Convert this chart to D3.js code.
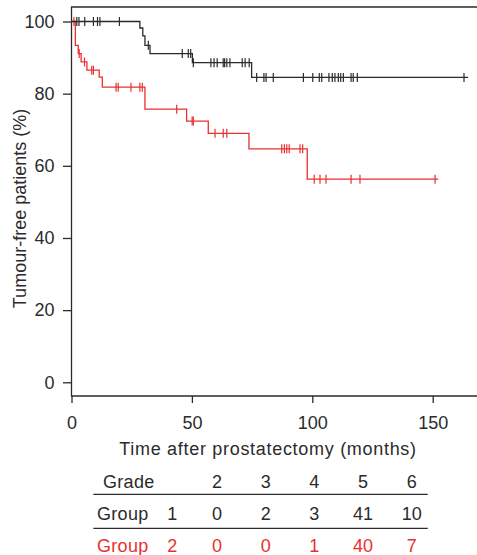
<!DOCTYPE html>
<html>
<head>
<meta charset="utf-8">
<script src="https://cdn.jsdelivr.net/npm/d3@7"></script>
<style>
  body { margin: 0; background: #fff; }
  svg { display: block; }
  text { font-family: "Liberation Sans", Arial, Helvetica, sans-serif; }
</style>
</head>
<body>
<svg id="chart" width="477" height="555"></svg>
<script>
// Axis ticks
const xTicks = [0, 50, 100, 150];
const yTicks = [0, 20, 40, 60, 80, 100];

// Group 1: Kaplan-Meier steps (month, % tumour-free) and censored follow-up times
const group1StepTimes  = [0, 28.4, 29.6, 30.5, 32.6, 50.2, 74.8];
const group1StepValues = [100, 98.2, 96.0, 93.4, 91.1, 88.6, 84.5];
const group1LastFollowUp = 164.7;
const group1Censored = [2.2, 3.1, 5.5, 9.1, 10.8, 11.8, 19.9, 31.9,
  46.0, 48.5, 49.5, 50.6, 57.9, 59.2, 60.5, 63.0, 63.6, 64.5, 65.8, 70.9, 72.1, 73.8,
  76.9, 79.9, 80.8, 83.8, 96.3, 100.2, 102.9, 103.9, 106.9, 108.3, 109.4, 110.8,
  111.8, 112.9, 116.1, 117.0, 118.7, 163.0];

// Group 2
const group2StepTimes  = [0, 1.6, 2.8, 4.0, 6.4, 11.5, 12.8, 30.5, 47.8, 56.8, 73.7, 97.9];
const group2StepValues = [100, 93.4, 91.1, 88.8, 86.5, 84.6, 81.8, 75.7, 72.4, 69.0, 64.7, 56.3];
const group2LastFollowUp = 152.3;
const group2Censored = [1.0, 3.2, 5.4, 8.4, 9.1, 18.5, 19.4, 24.7, 28.4, 29.4, 43.7,
  50.1, 50.6, 59.6, 63.0, 64.5, 87.3, 88.4, 89.4, 90.4, 94.9, 96.0,
  100.8, 103.2, 105.7, 116.1, 119.8, 151.0];

// Grade distribution table
const gradeLabels  = ["2", "3", "4", "5", "6"];
const group1Counts = [0, 2, 3, 41, 10];
const group2Counts = [0, 0, 1, 40, 7];

const INK = "#2b2b2b";
const RED = "#e8302f";
const FONT = "18px";

const svg = d3.select("#chart");
const W = 477;
const frameTop = 7, frameBottom = 396, frameLeft = 71.5;

const x = d3.scaleLinear().domain([0, 150]).range([frameLeft, 432.7]);
const y = d3.scaleLinear().domain([0, 100]).range([382.3, 21.5]);

// Frame: left, bottom and top edges
const frame = svg.append("g").attr("stroke", INK).attr("stroke-width", 1.3).attr("fill", "none");
frame.append("path").attr("d", `M${W},${frameTop}H${frameLeft}V${frameBottom}H${W}`);

// Axes
const yAxis = d3.axisLeft(y).tickValues(yTicks).tickSize(8.5).tickPadding(8.5);
const xAxis = d3.axisBottom(x).tickValues(xTicks).tickSize(7).tickPadding(13);

const gy = svg.append("g").attr("transform", `translate(${frameLeft},0)`).call(yAxis);
const gx = svg.append("g").attr("transform", `translate(0,${frameBottom})`).call(xAxis);
[gx, gy].forEach(g => {
  g.select(".domain").remove();
  g.selectAll(".tick line").attr("stroke", INK).attr("stroke-width", 1.3);
  g.selectAll(".tick text").attr("fill", INK).style("font-size", FONT)
    .style("font-family", '"Liberation Sans", Arial, sans-serif');
});

// Axis titles
svg.append("text")
  .attr("transform", "translate(26,208.5) rotate(-90)")
  .attr("text-anchor", "middle").attr("fill", INK).style("font-size", FONT)
  .text("Tumour-free patients (%)");
svg.append("text")
  .attr("x", 268).attr("y", 455)
  .attr("text-anchor", "middle").attr("fill", INK).style("font-size", FONT)
  .style("letter-spacing", "0.7px")
  .text("Time after prostatectomy (months)");

// Survival curves
function drawGroup(times, values, lastFollowUp, censored, color) {
  const pts = times.map((t, i) => [t, values[i]]);
  pts.push([lastFollowUp, values[values.length - 1]]);
  const line = d3.line().x(d => x(d[0])).y(d => y(d[1])).curve(d3.curveStepAfter);
  svg.append("path").datum(pts)
    .attr("d", line).attr("fill", "none")
    .attr("stroke", color).attr("stroke-width", 1.3);

  // survival level at a given month
  const bis = d3.bisector(d => d).right;
  const levelAt = t => values[Math.max(0, bis(times, t) - 1)];

  svg.append("g").selectAll("line").data(censored).join("line")
    .attr("x1", d => x(d)).attr("x2", d => x(d))
    .attr("y1", d => y(levelAt(d)) - 4.5).attr("y2", d => y(levelAt(d)) + 4.5)
    .attr("stroke", color).attr("stroke-width", 1.2);
}
drawGroup(group2StepTimes, group2StepValues, group2LastFollowUp, group2Censored, RED);
drawGroup(group1StepTimes, group1StepValues, group1LastFollowUp, group1Censored, INK);

// Grade table
const col = d3.scalePoint().domain(gradeLabels).range([217, 411.7]);
const table = svg.append("g").style("font-size", FONT);
const rows = [
  { label: "Grade", id: "", values: gradeLabels, color: INK, baseline: 487.5, lx: 103 },
  { label: "Group", id: "1", values: group1Counts, color: INK, baseline: 519.5, lx: 97 },
  { label: "Group", id: "2", values: group2Counts, color: RED, baseline: 551.5, lx: 97 }
];
rows.forEach(r => {
  table.append("text").attr("x", r.lx).attr("y", r.baseline).attr("fill", r.color)
    .style("letter-spacing", "0.3px").text(r.label);
  table.append("text").attr("x", 172.3).attr("y", r.baseline).attr("text-anchor", "middle")
    .attr("fill", r.color).text(r.id);
  table.selectAll(null).data(r.values).join("text")
    .attr("x", (d, i) => col(gradeLabels[i])).attr("y", r.baseline)
    .attr("text-anchor", "middle").attr("fill", r.color).text(d => d);
});
table.selectAll("line.rule").data([494.3, 528.3]).join("line")
  .attr("x1", 93.3).attr("x2", 427.7).attr("y1", d => d).attr("y2", d => d)
  .attr("stroke", INK).attr("stroke-width", 1.3);
</script>
</body>
</html>
